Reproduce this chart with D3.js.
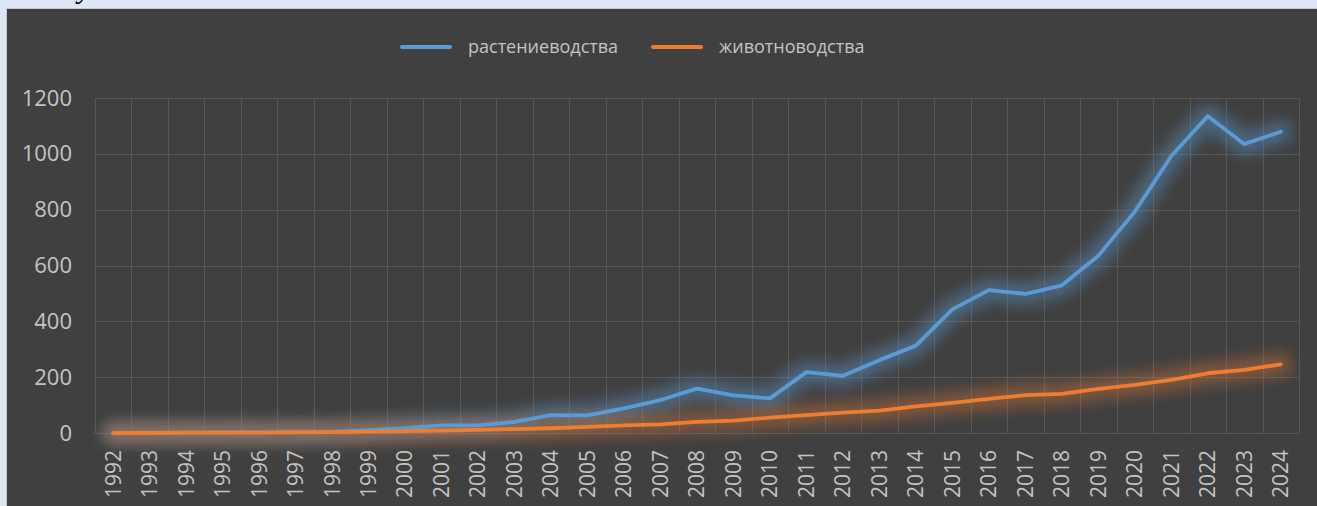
<!DOCTYPE html>
<html>
<head>
<meta charset="utf-8">
<script src="https://cdn.jsdelivr.net/npm/d3@7"></script>
<style>
  body { margin: 0; background: #dde8f4; }
  svg { display: block; }
  text { font-family: "Open Sans", "Noto Sans", sans-serif; }
</style>
</head>
<body>
<script>
// years on the category axis
const years = ["1992", "1993", "1994", "1995", "1996", "1997", "1998", "1999", "2000", "2001",
  "2002", "2003", "2004", "2005", "2006", "2007", "2008", "2009", "2010", "2011", "2012",
  "2013", "2014", "2015", "2016", "2017", "2018", "2019", "2020", "2021", "2022", "2023", "2024"];

// растениеводства
const plantValues = [0, 1, 1, 2, 3, 3, 4, 10, 17, 27, 27, 40, 64, 63, 88, 118, 159, 135, 124,
  218, 205, 261, 313, 443, 512, 498, 529, 635, 793, 992, 1135, 1035, 1079];

// животноводства
const livestockValues = [0, 0, 1, 1, 1, 2, 3, 5, 7, 9, 11, 14, 17, 22, 27, 31, 40, 44, 55,
  64, 73, 80, 95, 108, 122, 136, 140, 158, 172, 190, 214, 226, 246];

const seriesNames = ["растениеводства", "животноводства"];
const seriesColors = ["#5b9bd5", "#ed7d31"];
const yTicks = [0, 200, 400, 600, 800, 1000, 1200];

const width = 1317, height = 506;
const plot = { left: 95, right: 1299, top: 98, bottom: 433 };

const svg = d3.select("body")
    .append("svg")
    .attr("width", width)
    .attr("height", height);

// cut-off heading above the chart
svg.append("text")
    .attr("y", -2)
    .style("font-family", "'Liberation Serif', serif")
    .style("font-style", "italic")
    .style("font-size", "30px")
    .attr("fill", "#000")
    .selectAll("tspan")
    .data([["д", 30], ["у", 78], ["д", 172]])
    .enter()
    .append("tspan")
    .attr("x", d => d[1])
    .text(d => d[0]);

// chart background
svg.append("rect")
    .attr("x", 6.5)
    .attr("y", 8.5)
    .attr("width", width)
    .attr("height", height)
    .attr("fill", "#404040")
    .attr("stroke", "#c3c7cc");

const defs = svg.append("defs");
defs.append("filter")
    .attr("id", "glow")
    .attr("x", "-10%").attr("y", "-50%")
    .attr("width", "120%").attr("height", "200%")
    .append("feGaussianBlur")
    .attr("stdDeviation", 7);

const xScale = d3.scaleBand()
    .domain(years)
    .range([plot.left, plot.right]);

const yScale = d3.scaleLinear()
    .domain([0, 1200])
    .range([plot.bottom, plot.top]);

// grid
const grid = svg.append("g").attr("stroke", "#575757").attr("stroke-width", 1);
grid.selectAll("line.h")
    .data(yTicks)
    .enter()
    .append("line")
    .attr("x1", plot.left)
    .attr("x2", plot.right)
    .attr("y1", d => Math.round(yScale(d)) + 0.5)
    .attr("y2", d => Math.round(yScale(d)) + 0.5);

const vEdges = years.map(y => xScale(y)).concat([xScale(years[years.length - 1]) + xScale.bandwidth()]);
grid.selectAll("line.v")
    .data(vEdges)
    .enter()
    .append("line")
    .attr("x1", d => Math.round(d) + 0.5)
    .attr("x2", d => Math.round(d) + 0.5)
    .attr("y1", plot.top)
    .attr("y2", plot.bottom);

// axes
const yAxis = svg.append("g")
    .attr("transform", `translate(${plot.left},0)`)
    .call(d3.axisLeft(yScale).tickValues(yTicks).tickFormat(d3.format("d")).tickSize(0).tickPadding(23));
yAxis.select(".domain").remove();
yAxis.selectAll("text")
    .attr("fill", "#c4c4c4")
    .style("font-size", "22px")
    .style("font-family", "'Open Sans', sans-serif");

const xAxis = svg.append("g")
    .attr("transform", `translate(0,${plot.bottom})`)
    .call(d3.axisBottom(xScale).tickSize(0));
xAxis.select(".domain").remove();
xAxis.selectAll("text")
    .attr("fill", "#c4c4c4")
    .style("font-size", "21px")
    .style("font-family", "'Open Sans', sans-serif")
    .attr("text-anchor", "end")
    .attr("transform", "rotate(-90)")
    .attr("x", -17)
    .attr("y", 0)
    .attr("dy", "0.35em");

// lines
const line = d3.line()
    .x((d, i) => xScale(years[i]) + xScale.bandwidth() / 2)
    .y(d => yScale(d));

const allSeries = [plantValues, livestockValues];

allSeries.forEach((values, k) => {
    svg.append("path")
        .datum(values)
        .attr("d", line)
        .attr("fill", "none")
        .attr("stroke", seriesColors[k])
        .attr("stroke-width", 22)
        .attr("stroke-opacity", k === 0 ? 0.42 : 0.36)
        .attr("stroke-linejoin", "round")
        .attr("stroke-linecap", "round")
        .attr("filter", "url(#glow)");
});

allSeries.forEach((values, k) => {
    svg.append("path")
        .datum(values)
        .attr("d", line)
        .attr("fill", "none")
        .attr("stroke", seriesColors[k])
        .attr("stroke-width", 3.8)
        .attr("stroke-linejoin", "round")
        .attr("stroke-linecap", "round");
});

// legend
const legendX = [402, 653];
const legend = svg.append("g")
    .selectAll("g")
    .data(seriesNames)
    .enter()
    .append("g")
    .attr("transform", (d, i) => `translate(${legendX[i]},47)`);

legend.append("line")
    .attr("x1", 0)
    .attr("x2", 48)
    .attr("stroke", (d, i) => seriesColors[i])
    .attr("stroke-width", 4)
    .attr("stroke-linecap", "round");

legend.append("text")
    .attr("x", 66)
    .attr("dy", "0.35em")
    .attr("fill", "#c4c4c4")
    .style("font-size", "18px")
    .text(d => d);
</script>
</body>
</html>
